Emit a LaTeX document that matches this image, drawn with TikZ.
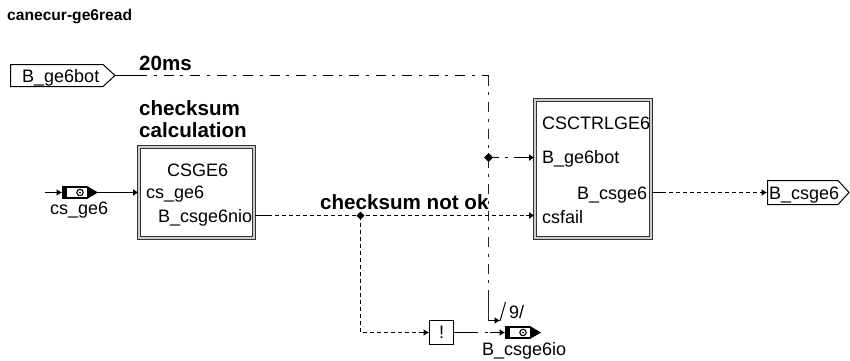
\documentclass[tikz,border=0pt]{standalone}
\usepackage{fontspec}
\setmainfont{Liberation Sans}
\usetikzlibrary{arrows.meta}
\tikzset{
  x=1pt,y=-1pt,
  lbl/.style={inner sep=0pt,anchor=base west,font=\fontsize{18}{18}\selectfont,text=black},
  blbl/.style={inner sep=0pt,anchor=base west,font=\fontsize{20.6}{20.6}\selectfont\bfseries},
  ttl/.style={inner sep=0pt,anchor=base west,font=\fontsize{15.6}{15.6}\selectfont\bfseries},
  blockbox/.style={draw=black!80,line width=0.9pt,double=gray!40,double distance=1.4pt,inner sep=0pt},
  tag/.style={draw=black,line width=1pt,fill=white,line join=miter},
  wire/.style={line width=1pt,draw=black},
  dotline/.style={wire,dash pattern=on 4pt off 3pt},
  dashdot/.style={wire,dash pattern=on 10pt off 6.5pt on 3pt off 7pt},
  thickdash/.style={line width=1.6pt,draw=black!85,dash pattern=on 10pt off 6.5pt on 3pt off 7pt},
  head/.style={-{Latex[length=5.5pt,width=7pt]}},
}
\newcommand{\portglyph}[2]{% x, y : connector symbol
  \fill[black] (#1,#2-6.5) rectangle (#1+25,#2+6.5);
  \fill[white] (#1+5,#2-4.5) rectangle (#1+25,#2+4.5);
  \fill[black] (#1+25,#2-6.5) -- (#1+36,#2) -- (#1+25,#2+6.5) -- cycle;
  \draw[black,line width=1.1pt] (#1+18,#2) circle[radius=3.2pt];
  \fill[black] (#1+18,#2) circle[radius=1pt];
}
\begin{document}
\begin{tikzpicture}
\useasboundingbox (0,0) rectangle (850,360);
\node[ttl] (title) at (7,20) {canecur-ge6read};

% input tag
\draw[tag] (10.5,64.5) -- (103,64.5) -- (115,75.5) -- (103,86.5) -- (10.5,86.5) -- cycle;
\node[lbl] (tagin) at (22,82) {B\_ge6bot};
\coordinate (tagintip) at (115,75.5);
\coordinate (tagstub) at (137,75.5);
\coordinate (corner) at (488.5,75.5);
\coordinate (jn) at (488.5,157.5);
\coordinate (jnstub) at (514,157.5);
\coordinate (bendstub) at (488.5,300);
\coordinate (bend) at (488.5,320.5);
\coordinate (bendend) at (500,320.5);
\coordinate (slashA) at (500,321);
\coordinate (slashB) at (505.5,302);
\node[lbl] (nine) at (509,318) {9/};
\node[blbl] (ms) at (139,70) {20ms};

% CSGE6 block
\node[blbl] (cs1) at (139,115) {checksum};
\node[blbl] (cs2) at (139,137) {calculation};
\node[blockbox,minimum width=115pt,minimum height=91pt] (csge) at (196.5,192.5) {};
\node[lbl] (csgename) at (167,176) {CSGE6};
\node[lbl] (csgein) at (146,198) {cs\_ge6};
\node[lbl] (csgeout) at (158,222) {B\_csge6nio};

% input port
\coordinate (instart) at (45,192.5);
\coordinate (inA) at (62,192.5);
\coordinate (inB) at (97,192.5);
\portglyph{62}{192.5}
\node[lbl] (inlbl) at (50,214) {cs\_ge6};

% CSCTRL block
\node[blockbox,minimum width=116pt,minimum height=138pt] (ctrl) at (593,169) {};
\node[lbl] (cname) at (542,129) {CSCTRLGE6};
\node[lbl] (cbot) at (542,163) {B\_ge6bot};
\node[lbl] (cout) at (577,199) {B\_csge6};
\node[lbl] (cfail) at (542,223) {csfail};

% output tag
\draw[tag] (767.5,180.5) -- (838,180.5) -- (849,192.5) -- (838,204.5) -- (767.5,204.5) -- cycle;
\node[lbl] (tagout) at (769,199) {B\_csge6};
\coordinate (tagoutL) at (767,192.5);

% not-block
\node[draw=black,line width=1pt,minimum size=24pt,inner sep=0pt,font=\fontsize{18}{18}\selectfont] (neg) at (441.5,332.5) {!};

% output port
\coordinate (outA) at (505,332.5);
\portglyph{505}{332.5}
\node[lbl] (outlbl) at (482,355) {B\_csge6io};

\node[blbl] (notok) at (320,209) {checksum not ok};

% connectors
\draw[wire] (tagintip) -- (tagstub);
\draw[dashdot] (tagstub) -- (corner);
\draw[thickdash] (corner) -- (jn);
\draw[thickdash] (jn) -- (bendstub);
\draw[line width=1.6pt,draw=black!85] (bendstub) -- (bend);
\draw[wire,head] (bend) -- (bendend);
\draw[wire] (slashA) -- (slashB);
\draw[dashdot] (jn) -- (jnstub);
\draw[wire,head] (jnstub) -- (ctrl.west |- jnstub);
\fill[black] (jn) +(-4.5,0) -- +(0,-4.5) -- +(4.5,0) -- +(0,4.5) -- cycle;
\draw[wire,head] (instart) -- (inA);
\draw[wire,head] (inB) -- (csge.west |- inB);
\coordinate (lineA) at (255,215.5);
\coordinate (lineAs) at (268,215.5);
\coordinate (lineB) at (360.5,215.5);
\coordinate (lineE) at (526,215.5);
\draw[wire] (lineA) -- (lineAs);
\draw[dotline] (lineAs) -- (lineE);
\draw[wire,head] (lineE) -- (ctrl.west |- lineE);
\fill[black] (lineB) +(-4,0) -- +(0,-4) -- +(4,0) -- +(0,4) -- cycle;
\coordinate (lineC) at (360.5,332.5);
\coordinate (negstub) at (422,332.5);
\draw[dotline] (lineB) -- (lineC) -- (negstub);
\draw[wire,head] (negstub) -- (neg.west);
\coordinate (negS) at (468,332.5);
\coordinate (outS) at (490,332.5);
\draw[wire] (neg.east) -- (negS);
\draw[dashdot] (negS) -- (outS);
\draw[wire,head] (outS) -- (outA);
\coordinate (ctrlout) at (652,192.5);
\coordinate (ctrloutS) at (662,192.5);
\coordinate (tagoutS) at (760,192.5);
\draw[wire] (ctrlout) -- (ctrloutS);
\draw[dotline] (ctrloutS) -- (tagoutS);
\draw[wire,head] (tagoutS) -- (tagoutL);
\end{tikzpicture}
\end{document}
